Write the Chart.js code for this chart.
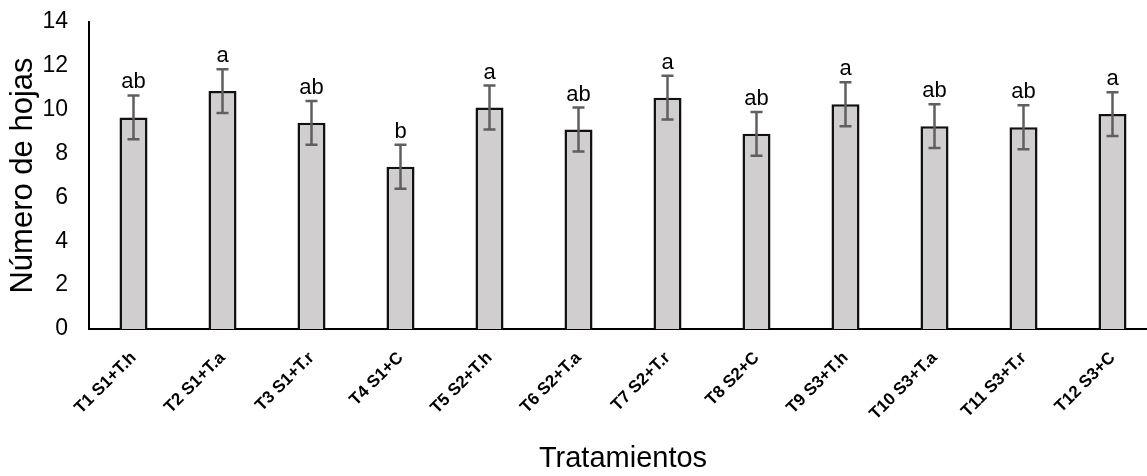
<!DOCTYPE html>
<html>
<head>
<meta charset="utf-8">
<script src="https://cdn.jsdelivr.net/npm/chart.js@4.4.1/dist/chart.umd.min.js"></script>
<style>
    html, body { margin: 0; padding: 0; background: #fff; overflow: hidden; }
    #wrap { width: 1160px; height: 476px; }
</style>
</head>
<body>
<div id="wrap"><canvas id="hojasChart" width="1160" height="476"></canvas></div>
<script>
// Treatment data
const tratamientos = ['T1 S1+T.h', 'T2 S1+T.a', 'T3 S1+T.r', 'T4 S1+C', 'T5 S2+T.h', 'T6 S2+T.a',
    'T7 S2+T.r', 'T8 S2+C', 'T9 S3+T.h', 'T10 S3+T.a', 'T11 S3+T.r', 'T12 S3+C'];
const medias = [9.65, 10.85, 9.4, 7.4, 10.1, 9.1, 10.55, 8.9, 10.25, 9.25, 9.2, 9.8];
const errores = [1.0, 1.0, 1.0, 1.0, 1.0, 1.0, 1.0, 1.0, 1.0, 1.0, 1.0, 1.0];
const letras = ['ab', 'a', 'ab', 'b', 'a', 'ab', 'a', 'ab', 'a', 'ab', 'ab', 'a'];
const yTicks = [0, 2, 4, 6, 8, 10, 12, 14];

const FONT = "'Liberation Sans', Arial, sans-serif";

// Error bars plus significance letters
const errorBarsPlugin = {
    id: 'errorBars',
    afterDatasetsDraw(chart) {
        const ctx = chart.ctx;
        const meta = chart.getDatasetMeta(0);
        const y = chart.scales.y;
        ctx.save();
        meta.data.forEach((bar, i) => {
            const top = y.getPixelForValue(medias[i] + errores[i]);
            const bottom = y.getPixelForValue(medias[i] - errores[i]);
            ctx.strokeStyle = '#5f5f5f';
            ctx.lineWidth = 2.5;
            ctx.beginPath();
            ctx.moveTo(bar.x, top);
            ctx.lineTo(bar.x, bottom);
            ctx.moveTo(bar.x - 6, top);
            ctx.lineTo(bar.x + 6, top);
            ctx.moveTo(bar.x - 6, bottom);
            ctx.lineTo(bar.x + 6, bottom);
            ctx.stroke();

            ctx.fillStyle = '#000';
            ctx.font = '22px ' + FONT;
            ctx.textAlign = 'center';
            ctx.textBaseline = 'alphabetic';
            ctx.fillText(letras[i], bar.x, top - 7);
        });
        ctx.restore();
    }
};

new Chart(document.getElementById('hojasChart'), {
    type: 'bar',
    data: {
        labels: tratamientos,
        datasets: [{
            data: medias,
            backgroundColor: '#d0cecf',
            borderColor: '#111',
            borderWidth: 2.5,
            categoryPercentage: 1,
            barPercentage: 0.315
        }]
    },
    options: {
        responsive: false,
        animation: false,
        layout: { padding: { top: 22, right: 3, left: 0, bottom: 0 } },
        plugins: {
            legend: { display: false },
            tooltip: { enabled: false }
        },
        scales: {
            x: {
                grid: { display: false, drawTicks: false },
                border: { display: true, color: '#000', width: 2 },
                ticks: {
                    color: '#000',
                    font: { family: FONT, size: 17, weight: 'bold' },
                    minRotation: 45,
                    maxRotation: 45,
                    padding: 19
                },
                title: {
                    display: true,
                    text: 'Tratamientos',
                    color: '#000',
                    font: { family: FONT, size: 29 },
                    padding: { top: 0, bottom: 0 }
                },
                afterFit: scale => { scale.height = 147; }
            },
            y: {
                min: 0,
                max: 14,
                grid: { display: false, drawTicks: false },
                border: { display: true, color: '#000', width: 2 },
                afterBuildTicks: scale => { scale.ticks = yTicks.map(v => ({ value: v })); },
                ticks: {
                    color: '#000',
                    font: { family: FONT, size: 23 },
                    padding: 21
                },
                title: {
                    display: true,
                    text: 'Número de hojas',
                    color: '#000',
                    font: { family: FONT, size: 31 },
                    padding: { top: 5, bottom: 0 }
                },
                afterFit: scale => {
                    scale.width = 89;
                    scale.paddingTop = 0;
                    scale.paddingBottom = 0;
                }
            }
        }
    },
    plugins: [errorBarsPlugin]
});
</script>
</body>
</html>
